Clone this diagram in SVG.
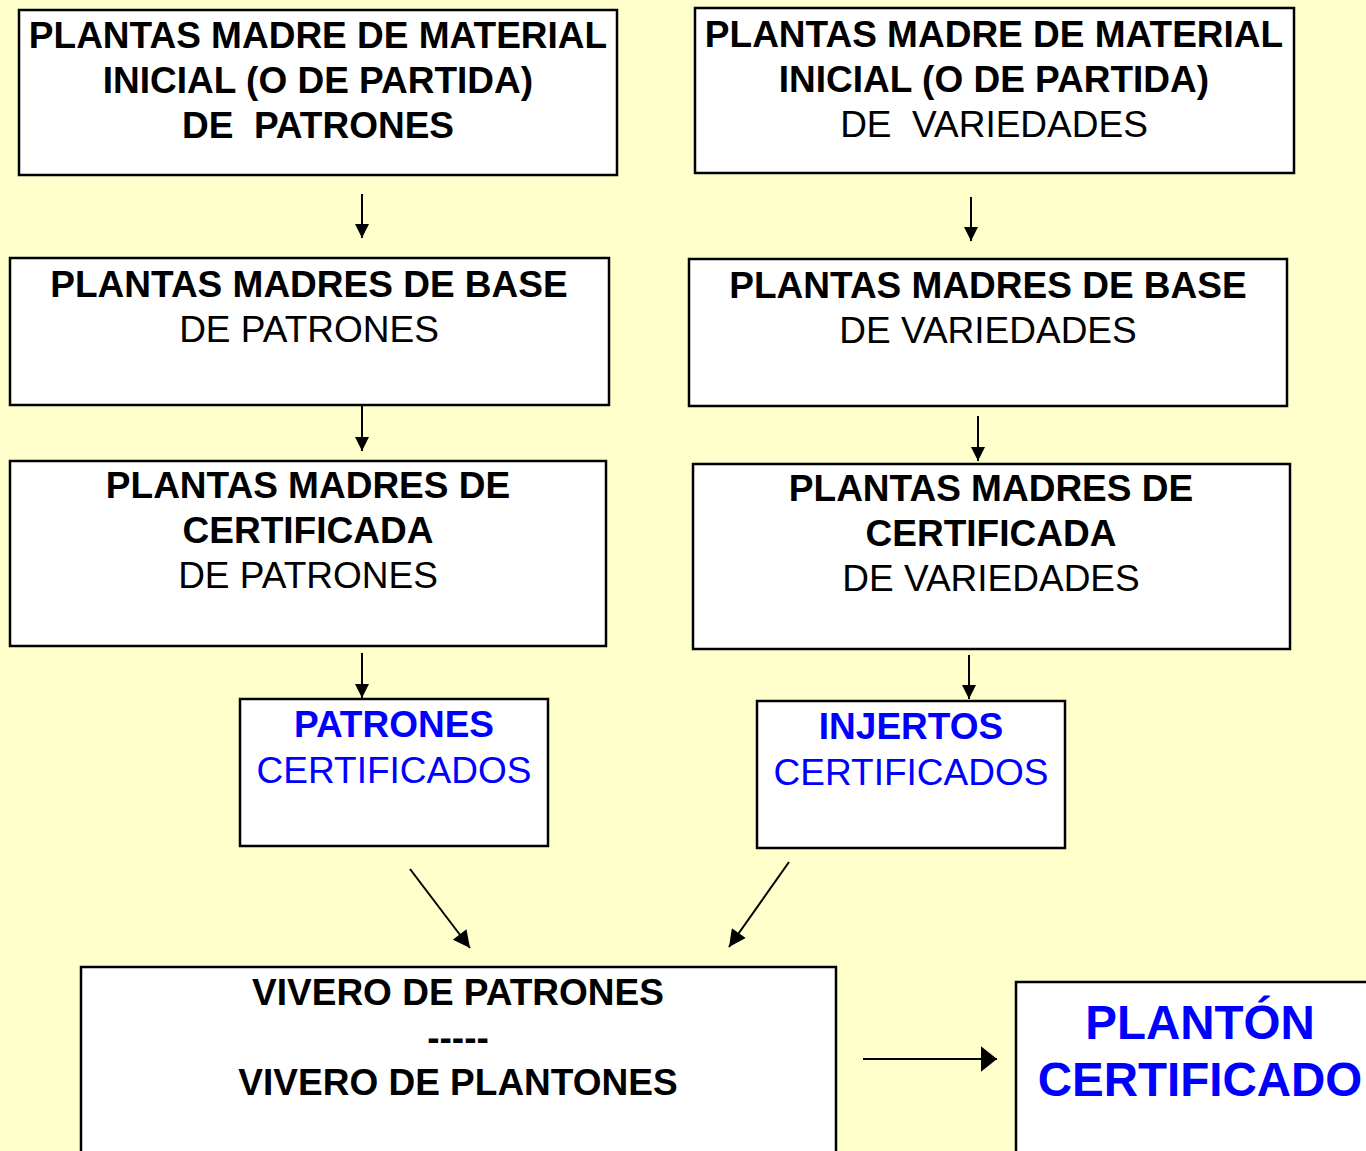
<svg xmlns="http://www.w3.org/2000/svg" width="1366" height="1151" viewBox="0 0 1366 1151">
<defs>
<marker id="ah" viewBox="0 0 10 10" refX="10" refY="5" markerWidth="14" markerHeight="14" markerUnits="userSpaceOnUse" orient="auto"><path d="M0,0 L10,5 L0,10 z" fill="#000"/></marker>
<marker id="ahL" viewBox="0 0 10 10" refX="10" refY="5" markerWidth="18" markerHeight="17" markerUnits="userSpaceOnUse" orient="auto"><path d="M0,0 L10,5 L0,10 z" fill="#000"/></marker>
<marker id="ahR" viewBox="0 0 10 16" refX="10" refY="8" markerWidth="16" markerHeight="26" markerUnits="userSpaceOnUse" orient="auto"><path d="M0,0 L10,8 L0,16 z" fill="#000"/></marker>
<style>
.box{fill:#fff;stroke:#000;stroke-width:2.5}
text{font-family:"Liberation Sans",Arial,sans-serif;font-size:37px;text-anchor:middle;fill:#000}
.b{font-weight:bold}
.blue{fill:#0000ff}
.big{font-size:47.5px;font-weight:bold}
.con{stroke:#000;stroke-width:2;fill:none}
</style>
</defs>
<rect width="1366" height="1151" fill="#ffffcc"/>
<g id="n1"><rect class="box" x="19" y="10" width="598" height="165"/>
<text class="b" x="318" y="48">PLANTAS MADRE DE MATERIAL</text>
<text class="b" x="318" y="93">INICIAL (O DE PARTIDA)</text>
<text class="b" x="318" y="138" xml:space="preserve">DE  PATRONES</text></g>
<g id="n2"><rect class="box" x="695" y="8" width="599" height="165"/>
<text class="b" x="994" y="47">PLANTAS MADRE DE MATERIAL</text>
<text class="b" x="994" y="92">INICIAL (O DE PARTIDA)</text>
<text x="994" y="137" xml:space="preserve">DE  VARIEDADES</text></g>
<g id="n3"><rect class="box" x="10" y="258" width="599" height="147"/>
<text class="b" x="309" y="297">PLANTAS MADRES DE BASE</text>
<text x="309" y="342">DE PATRONES</text></g>
<g id="n4"><rect class="box" x="689" y="259" width="598" height="147"/>
<text class="b" x="988" y="298">PLANTAS MADRES DE BASE</text>
<text x="988" y="343">DE VARIEDADES</text></g>
<g id="n5"><rect class="box" x="10" y="461" width="596" height="185"/>
<text class="b" x="308" y="498">PLANTAS MADRES DE</text>
<text class="b" x="308" y="543">CERTIFICADA</text>
<text x="308" y="588">DE PATRONES</text></g>
<g id="n6"><rect class="box" x="693" y="464" width="597" height="185"/>
<text class="b" x="991" y="501">PLANTAS MADRES DE</text>
<text class="b" x="991" y="546">CERTIFICADA</text>
<text x="991" y="591">DE VARIEDADES</text></g>
<g id="n7"><rect class="box" x="240" y="699" width="308" height="147"/>
<text class="b blue" x="394" y="737">PATRONES</text>
<text class="blue" x="394" y="783">CERTIFICADOS</text></g>
<g id="n8"><rect class="box" x="757" y="701" width="308" height="147"/>
<text class="b blue" x="911" y="739">INJERTOS</text>
<text class="blue" x="911" y="785">CERTIFICADOS</text></g>
<g id="n9"><rect class="box" x="81" y="967" width="755" height="200"/>
<text class="b" x="458" y="1005">VIVERO DE PATRONES</text>
<text class="b" x="458" y="1050">-----</text>
<text class="b" x="458" y="1095">VIVERO DE PLANTONES</text></g>
<g id="n10"><rect class="box" x="1016" y="982" width="370" height="200"/>
<text class="big blue" x="1200" y="1039">PLANTÓN</text>
<text class="big blue" x="1200" y="1096">CERTIFICADO</text></g>
<g id="connectors">
<line class="con" x1="362" y1="194" x2="362" y2="238" marker-end="url(#ah)"/>
<line class="con" x1="971" y1="197" x2="971" y2="241" marker-end="url(#ah)"/>
<line class="con" x1="362" y1="406" x2="362" y2="451" marker-end="url(#ah)"/>
<line class="con" x1="978" y1="416" x2="978" y2="461" marker-end="url(#ah)"/>
<line class="con" x1="362" y1="653" x2="362" y2="698" marker-end="url(#ah)"/>
<line class="con" x1="969" y1="655" x2="969" y2="699" marker-end="url(#ah)"/>
<line class="con" x1="410" y1="869" x2="470" y2="948" marker-end="url(#ahL)"/>
<line class="con" x1="789" y1="862" x2="729" y2="947" marker-end="url(#ahL)"/>
<line class="con" x1="863" y1="1059" x2="997" y2="1059" marker-end="url(#ahR)"/>
</g>
</svg>
